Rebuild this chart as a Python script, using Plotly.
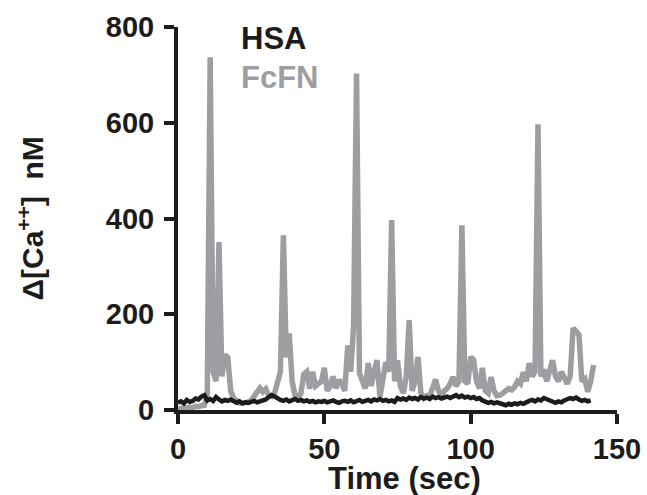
import plotly.graph_objects as go

# FcFN (gray) trace, sampled once per second
fcfn_time = list(range(0, 143))
fcfn_vals = [3, 2, 5, 4, 6, 5, 8, 7, 9, 10,
             30, 737, 80, 60, 351, 70, 115, 110, 40, 25,
             20, 15, 14, 15, 17, 20, 28, 35, 46, 38,
             44, 30, 28, 35, 60, 80, 365, 110, 160, 60,
             30, 25, 35, 75, 80, 45, 80, 50, 55, 60,
             88, 40, 50, 70, 45, 63, 55, 40, 135, 80,
             175, 703, 77, 60, 45, 98, 50, 80, 104, 27,
             60, 100, 80, 397, 60, 104, 50, 35, 70, 188,
             40, 60, 111, 35, 25, 30, 28, 50, 64, 40,
             30, 40, 45, 55, 69, 50, 60, 386, 60, 55,
             111, 105, 60, 45, 88, 40, 35, 69, 40, 30,
             31, 35, 40, 45, 42, 48, 60, 55, 79, 60,
             98, 70, 80, 597, 70, 85, 60, 80, 104, 70,
             60, 80, 69, 55, 70, 171, 165, 157, 60, 65,
             38, 60, 94]

# HSA (black) trace, sampled once per second
hsa_time = list(range(0, 142))
hsa_vals = [15, 18, 14, 21, 17, 19, 24, 22, 28, 31,
            20, 23, 19, 27, 22, 18, 21, 19, 22, 17,
            15, 18, 14, 16, 15, 17, 19, 16, 18, 20,
            22, 27, 31, 28, 24, 21, 19, 22, 18, 20,
            23, 19, 21, 18, 20, 17, 19, 16, 18, 17,
            19, 16, 18, 20, 17, 15, 18, 19, 17, 20,
            16, 18, 21, 17, 19, 21, 18, 22, 20, 23,
            19, 21, 18, 20, 17, 25, 22, 24, 21, 26,
            23, 25, 22, 27, 24, 26, 23, 28, 25, 27,
            24, 26, 28, 25, 29, 31, 27, 30, 26, 28,
            25, 27, 23, 25, 20, 18, 15, 17, 14, 16,
            13, 12, 10, 13, 11, 14, 12, 15, 13, 17,
            19, 21, 18, 22, 20, 25, 22, 19, 17, 15,
            18, 16, 20, 22, 25, 23, 26, 22, 19, 21,
            18, 20]

x_ticks = [0, 50, 100, 150]
y_ticks = [0, 200, 400, 600, 800]

GRAY = "#9d9ea2"
BLACK = "#1c1c1c"
FONT = "Liberation Sans, Arial, sans-serif"

fig = go.Figure()
fig.add_trace(go.Scatter(x=fcfn_time, y=fcfn_vals, mode="lines",
                         line=dict(color=GRAY, width=5.5), name="FcFN"))
fig.add_trace(go.Scatter(x=hsa_time, y=hsa_vals, mode="lines",
                         line=dict(color=BLACK, width=4.5), name="HSA"))

axis_common = dict(showgrid=False, zeroline=False, showline=True,
                   linecolor=BLACK, linewidth=4, ticks="outside",
                   ticklen=10, tickwidth=4, tickcolor=BLACK, automargin=False,
                   tickfont=dict(family=FONT, size=29, color=BLACK, weight="bold"))

fig.update_layout(
    width=647, height=495,
    margin=dict(l=178, r=30, t=27, b=85),
    paper_bgcolor="white", plot_bgcolor="white",
    showlegend=False,
    xaxis=dict(range=[0, 150], tickvals=x_ticks, **axis_common),
    yaxis=dict(range=[0, 800], tickvals=y_ticks, ticklabelstandoff=4, **axis_common),
    annotations=[
        dict(text="Time (sec)", xref="paper", yref="paper",
             x=0.517, y=-0.178, xanchor="center", yanchor="middle", showarrow=False,
             font=dict(family=FONT, size=31, color=BLACK, weight="bold")),
        dict(text="Δ[Ca<sup>++</sup>]  nM", textangle=-90, xref="paper", yref="paper",
             x=-0.337, y=0.5, xanchor="center", yanchor="middle", showarrow=False,
             font=dict(family=FONT, size=30, color=BLACK, weight="bold")),
        dict(text="HSA", xref="x", yref="y", x=21, y=775, xanchor="left",
             yanchor="middle", showarrow=False,
             font=dict(family=FONT, size=31, color=BLACK, weight="bold")),
        dict(text="FcFN", xref="x", yref="y", x=21, y=695, xanchor="left",
             yanchor="middle", showarrow=False,
             font=dict(family=FONT, size=31, color=GRAY, weight="bold")),
    ],
)

fig.write_html("out.html", config={"displayModeBar": False},
               post_script="document.body.style.margin='0';")
